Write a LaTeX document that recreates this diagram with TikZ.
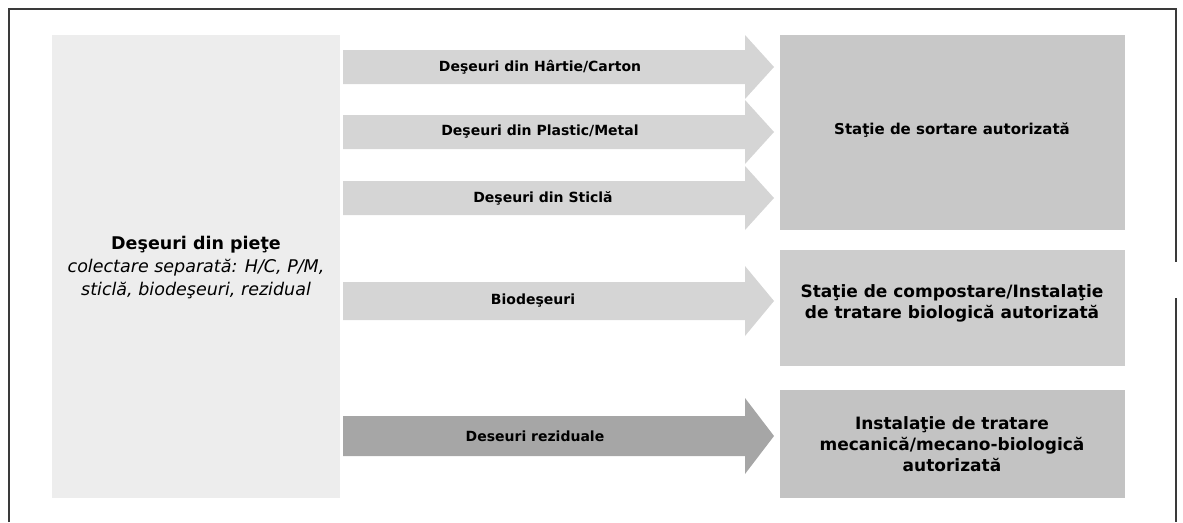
\documentclass[tikz,border=0pt]{standalone}
\usepackage{fontspec}
\setmainfont{DejaVu Sans}
\definecolor{frameC}{HTML}{3A3A3A}
\definecolor{srcC}{HTML}{EDEDED}
\definecolor{arrC}{HTML}{D5D5D5}
\definecolor{arrD}{HTML}{A6A6A6}
\definecolor{boxA}{HTML}{C8C8C8}
\definecolor{boxB}{HTML}{CDCDCD}
\definecolor{boxC}{HTML}{C3C3C3}
\begin{document}
\begin{tikzpicture}[x=1pt,y=-1pt,
  lbl/.style={font=\fontsize{14}{17}\selectfont\bfseries, text=black},
  boxtxt/.style={align=center, text=black},
  framepen/.style={draw=frameC, line width=1.4pt}]
\useasboundingbox (0,0) rectangle (1183,522);
% frame
\coordinate (fA) at (9,522);
\coordinate (fB) at (9,9);
\coordinate (fC) at (1176,9);
\coordinate (fD) at (1176,262);
\coordinate (fE) at (1176,298);
\coordinate (fF) at (1176,522);
\draw[framepen] (fA) -- (fB) -- (fC) -- (fD);
\draw[framepen] (fE) -- (fF);
% source box
\fill[srcC] (52,35) rectangle (340,498);
\node[align=center, text=black, font=\fontsize{17.5}{23}\selectfont] (src) at (196,268)
  {\textbf{Deşeuri din pieţe}\\
   \textit{colectare separată: H/C, P/M,}\\
   \textit{sticlă, biodeşeuri, rezidual}};
% target boxes
\fill[boxA] (780,35) rectangle (1125,230);
\node[boxtxt, font=\fontsize{15}{19}\selectfont\bfseries] (t1) at (952,130) {Staţie de sortare autorizată};
\fill[boxB] (780,250) rectangle (1125,366);
\node[boxtxt, font=\fontsize{17}{21}\selectfont\bfseries] (t2) at (952,303) {Staţie de compostare/Instalaţie\\de tratare biologică autorizată};
\fill[boxC] (780,390) rectangle (1125,498);
\node[boxtxt, font=\fontsize{17}{21}\selectfont\bfseries] (t3) at (952,444) {Instalaţie de tratare\\mecanică/mecano-biologică\\autorizată};
% block arrows: centre y / body half / head half / colour
\foreach \y/\b/\h/\c in {67/17/32/arrC,132/17/32/arrC,198/17/32/arrC,301/19/35/arrC,436/20/38/arrD}{
  \fill[\c] (343,\y-\b) -- (745,\y-\b) -- (745,\y-\h) -- (774,\y) -- (745,\y+\h) -- (745,\y+\b) -- (343,\y+\b) -- cycle;
}
\node[lbl] (a1) at (540,67) {Deşeuri din Hârtie/Carton};
\node[lbl] (a2) at (540,132) {Deşeuri din Plastic/Metal};
\node[lbl] (a3) at (543,198) {Deşeuri din Sticlă};
\node[lbl] (a4) at (533,301) {Biodeşeuri};
\node[lbl] (a5) at (535,436) {Deseuri reziduale};
\end{tikzpicture}
\end{document}
